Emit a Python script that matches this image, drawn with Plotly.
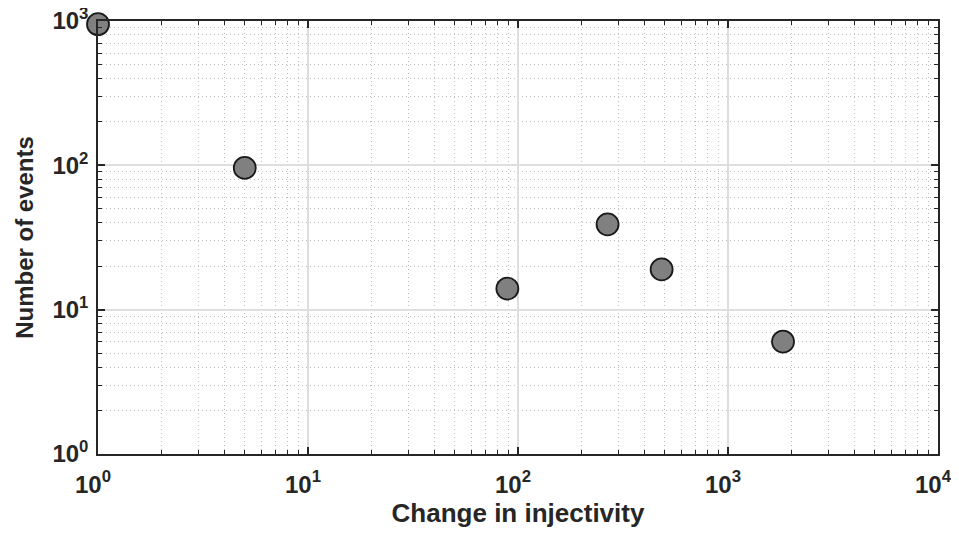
import plotly.graph_objects as go

# Data
change_in_injectivity = [1, 5, 89, 267, 483, 1828]
number_of_events = [950, 96, 14, 39, 19, 6]

x_tick_vals = [1, 10, 100, 1000, 10000]
x_tick_text = ["10<sup>0</sup>", "10<sup>1</sup>", "10<sup>2</sup>", "10<sup>3</sup>", "10<sup>4</sup>"]
y_tick_vals = [1, 10, 100, 1000]
y_tick_text = ["10<sup>0</sup>", "10<sup>1</sup>", "10<sup>2</sup>", "10<sup>3</sup>"]

FONT = "Arial, Liberation Sans, sans-serif"
DARK = "#262626"

fig = go.Figure()
fig.add_trace(go.Scatter(
    x=change_in_injectivity,
    y=number_of_events,
    mode="markers",
    marker=dict(size=22, color="#808080", line=dict(color="#1a1a1a", width=1.8)),
    cliponaxis=False,
    showlegend=False,
))

axis_common = dict(
    type="log",
    automargin=False,
    showline=True,
    linecolor=DARK,
    linewidth=1.5,
    mirror="ticks",
    ticks="inside",
    ticklen=7,
    tickwidth=1.5,
    tickcolor=DARK,
    showgrid=True,
    gridcolor="#dedede",
    gridwidth=1.5,
    zeroline=False,
    ticklabeloverflow="allow",
    tickfont=dict(family=FONT, size=24, color=DARK, weight="bold"),
    minor=dict(
        dtick="D1",
        ticks="inside",
        ticklen=4,
        tickwidth=1.2,
        tickcolor=DARK,
        showgrid=True,
        gridcolor="#bdbdbd",
        griddash="1px,3px",
        gridwidth=1,
    ),
)

fig.update_xaxes(
    **axis_common,
    range=[0, 4],
    tickvals=x_tick_vals,
    ticktext=x_tick_text,
    ticklabelstandoff=8,
    ticklabelshift=-5,
    title=dict(text="Change in injectivity",
               font=dict(family=FONT, size=26, color=DARK, weight="bold"),
               standoff=8),
)
fig.update_yaxes(
    **axis_common,
    range=[0, 3],
    tickvals=y_tick_vals,
    ticktext=y_tick_text,
    ticklabelstandoff=3,
    title=dict(text="Number of events",
               font=dict(family=FONT, size=24, color=DARK, weight="bold"),
               standoff=12),
)

# The page body adds an 8px offset, so the figure is sized and
# margined to put the plot area where the reference has it.
fig.update_layout(
    width=958,
    height=520,
    margin=dict(l=90, r=28, t=13, b=74),
    plot_bgcolor="white",
    paper_bgcolor="white",
)

fig.write_html("out.html")
